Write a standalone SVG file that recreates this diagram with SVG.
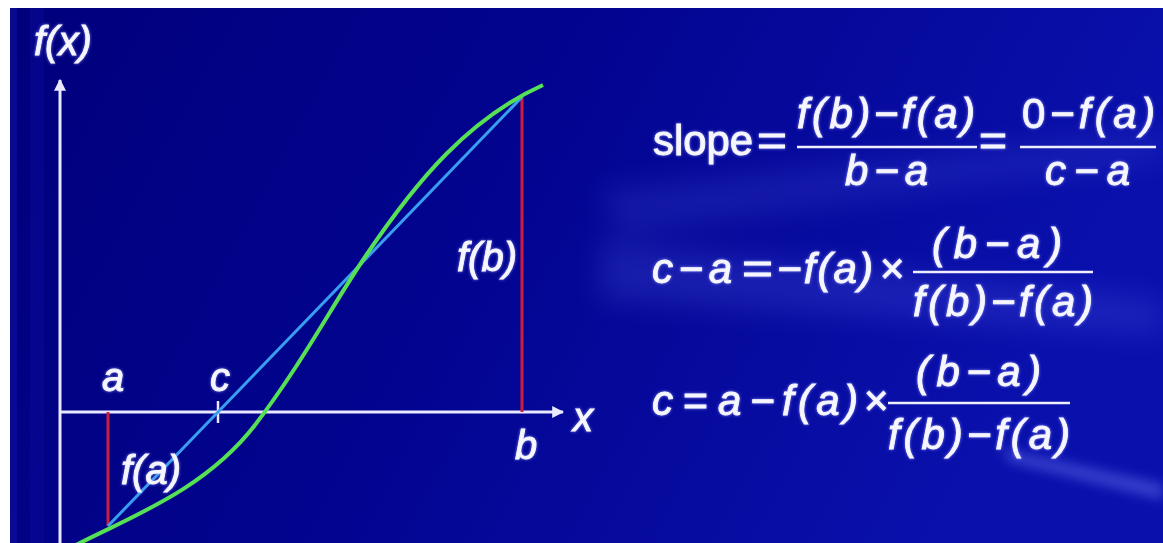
<svg xmlns="http://www.w3.org/2000/svg" width="1163" height="543" viewBox="0 0 1163 543">
<defs>
<linearGradient id="bg" x1="0" y1="0" x2="1" y2="0.25">
<stop offset="0" stop-color="#00007c"/>
<stop offset="0.45" stop-color="#02048e"/>
<stop offset="1" stop-color="#0a10ac"/>
</linearGradient>
<filter id="blur" x="-20%" y="-50%" width="140%" height="200%"><feGaussianBlur stdDeviation="14"/></filter>
<filter id="blur2" x="-20%" y="-50%" width="140%" height="200%"><feGaussianBlur stdDeviation="6"/></filter>
<filter id="glow" x="-10%" y="-20%" width="120%" height="140%">
<feGaussianBlur in="SourceAlpha" stdDeviation="1.6" result="b"/>
<feFlood flood-color="#9aa0ff" flood-opacity="0.8"/>
<feComposite in2="b" operator="in" result="g"/>
<feMerge><feMergeNode in="g"/><feMergeNode in="SourceGraphic"/></feMerge>
</filter>
<marker id="arr" viewBox="0 0 10 10" refX="9" refY="5" markerWidth="4" markerHeight="4" orient="auto" markerUnits="strokeWidth">
<path d="M0,0 L10,5 L0,10 z" fill="#e8e8ff"/>
</marker>
<style>
.t{font-family:"Liberation Sans",Arial,sans-serif;fill:#f6f6ff;stroke:#f6f6ff;stroke-width:0.9;filter:url(#glow)}
.f{font-size:42px;font-style:italic}
.n{font-style:normal}
.lbl{font-size:40px;font-style:italic}
.bar{stroke:#eeeeff;stroke-width:2.5}
.axis{stroke:#e8e8ff;stroke-width:3;fill:none}
</style>
</defs>
<rect width="1163" height="543" fill="#ffffff"/>
<rect x="10" y="8" width="1153" height="535" fill="url(#bg)"/>
<g opacity="0.45">
<rect x="10" y="8" width="7" height="535" fill="#1414a8"/>
<rect x="30" y="8" width="14" height="535" fill="#0c0c9c"/>
</g>
<g filter="url(#blur)" opacity="0.22">
<polygon points="600,240 1163,300 1163,335 600,300" fill="#5a65f0"/>
<polygon points="600,190 1163,130 1163,160 620,235" fill="#4a55e0"/>
</g>
<g filter="url(#blur2)" opacity="0.4">
<polygon points="1000,448 1163,484 1163,500 1010,462" fill="#7a88ff"/>
</g>

<g id="axes">
<line class="axis" x1="60" y1="543" x2="60" y2="80" marker-end="url(#arr)"/>
<line class="axis" x1="60" y1="412" x2="563" y2="412" marker-end="url(#arr)"/>
<line x1="218" y1="401" x2="218" y2="423" stroke="#e8e8ff" stroke-width="2.5"/>
</g>

<g id="connectors">
<line x1="108" y1="412" x2="108" y2="526" stroke="#d01c3c" stroke-width="3"/>
<line x1="522" y1="97" x2="522" y2="412" stroke="#d01c3c" stroke-width="3"/>
<line x1="108" y1="526" x2="522" y2="97" stroke="#3a9ef0" stroke-width="3"/>
<path d="M76,545 C130,517 205,490 255,425 C301,365 333,304 365,257 C418,178 470,118 543,85" fill="none" stroke="#55e055" stroke-width="4"/>
</g>

<g id="labels">
<text class="t lbl" x="34" y="55" font-size="36">f(x)</text>
<text class="t lbl" x="102" y="391">a</text>
<text class="t lbl" x="210" y="391">c</text>
<text class="t lbl" x="573" y="431">x</text>
<text class="t lbl" x="515" y="459">b</text>
<text class="t lbl" x="457" y="271">f(b)</text>
<text class="t lbl" x="121" y="484">f(a)</text>
</g>

<g id="eq1">
<text class="t f n" x="653" y="155" textLength="100" lengthAdjust="spacingAndGlyphs">slope</text>
<text class="t f n" x="757" y="155" textLength="30" lengthAdjust="spacingAndGlyphs">=</text>
<text class="t f" x="797" y="128" textLength="178">f(b)−f(a)</text>
<line class="bar" x1="797" y1="147" x2="977" y2="147"/>
<text class="t f" x="845" y="185" textLength="83">b−a</text>
<text class="t f n" x="979" y="155" textLength="28" lengthAdjust="spacingAndGlyphs">=</text>
<text class="t f" x="1022" y="128" textLength="133"><tspan class="n">0</tspan>−f(a)</text>
<line class="bar" x1="1020" y1="147" x2="1156" y2="147"/>
<text class="t f" x="1045" y="185" textLength="85">c−a</text>
</g>

<g id="eq2">
<text class="t f" x="652" y="283" textLength="80">c−a</text>
<text class="t f n" x="742" y="283" textLength="31" lengthAdjust="spacingAndGlyphs">=</text>
<text class="t f" x="777" y="283" textLength="96">−f(a)</text>
<text class="t f n" x="880" y="283">×</text>
<text class="t f" x="932" y="258" textLength="130">(b−a)</text>
<line class="bar" x1="913" y1="272" x2="1093" y2="272"/>
<text class="t f" x="913" y="316" textLength="180">f(b)−f(a)</text>
</g>

<g id="eq3">
<text class="t f" x="652" y="415">c</text>
<text class="t f n" x="683" y="415" textLength="25" lengthAdjust="spacingAndGlyphs">=</text>
<text class="t f" x="718" y="415">a</text>
<text class="t f" x="750" y="415">−</text>
<text class="t f" x="782" y="415" textLength="76">f(a)</text>
<text class="t f n" x="864" y="415">×</text>
<text class="t f" x="916" y="386" textLength="125">(b−a)</text>
<line class="bar" x1="888" y1="403" x2="1070" y2="403"/>
<text class="t f" x="888" y="449" textLength="182">f(b)−f(a)</text>
</g>
</svg>
